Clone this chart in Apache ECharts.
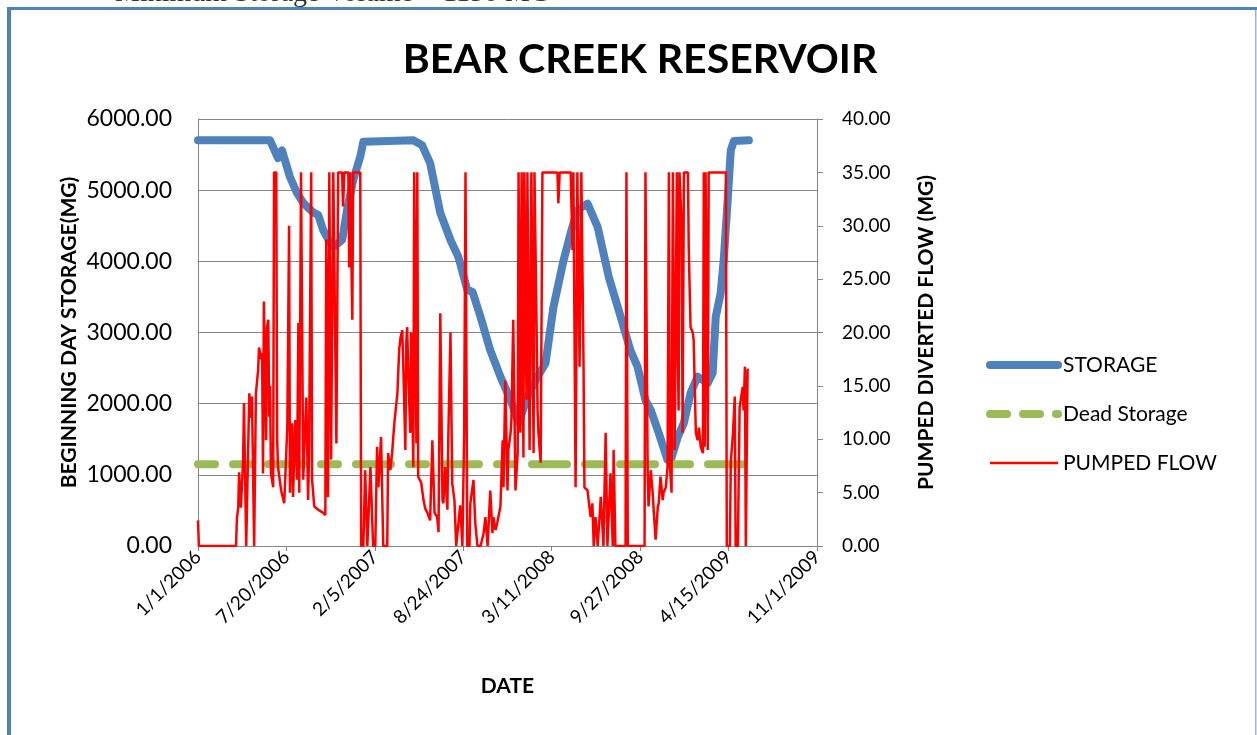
<!DOCTYPE html>
<html>
<head>
<meta charset="utf-8">
<title>Bear Creek Reservoir</title>
<script src="https://cdn.jsdelivr.net/npm/echarts@6/dist/echarts.min.js"></script>
<style>
html, body { margin: 0; padding: 0; background: #fff; }
#chart { width: 1257px; height: 735px; }
</style>
</head>
<body>
<div id="chart"></div>
<script>
// x values are days counted from 1/1/2006
var xTickLabels = ['1/1/2006', '7/20/2006', '2/5/2007', '8/24/2007', '3/11/2008', '9/27/2008', '4/15/2009', '11/1/2009'];

var storageDay = [0, 163, 181, 190, 208, 224, 238, 260, 272, 283, 299, 306, 326, 337, 351, 367, 374,
	487, 507, 525, 548, 571, 589, 609, 621, 639, 661, 684, 707, 725, 745, 768, 786, 804, 827, 843, 858,
	881, 904, 929, 956, 978, 994, 1012, 1024, 1042, 1062, 1069, 1085, 1099, 1114, 1130, 1153, 1164,
	1171, 1182, 1189, 1198, 1205, 1212, 1246];
var storageMG = [5700, 5700, 5450, 5560, 5185, 4960, 4820, 4690, 4650, 4440, 4260, 4200, 4300, 4720, 5140, 5470, 5680,
	5700, 5630, 5380, 4680, 4300, 4060, 3600, 3570, 3220, 2750, 2380, 2050, 1730, 2090, 2380, 2570, 3360, 4020, 4400, 4720,
	4810, 4480, 3780, 3220, 2750, 2520, 2050, 1910, 1590, 1210, 1200, 1530, 1730, 2150, 2380, 2290, 2430,
	3220, 3550, 4020, 4860, 5560, 5690, 5700];

var deadStorageDay = [0, 1246];
var deadStorageMG = [1150, 1150];

var flowDay = [0, 2, 86, 88, 91, 93, 97, 102, 104, 109, 111, 116, 120, 122, 127, 131, 136, 138, 143, 145,
	147, 149, 152, 154, 156, 159, 161, 163, 165, 170, 172, 177, 179, 181, 188, 195, 202, 206, 208, 213,
	215, 220, 224, 227, 229, 233, 236, 238, 240, 245, 249, 251, 256, 258, 263, 272, 283, 288, 290, 294,
	297, 301, 306, 308, 313, 317, 326, 328, 331, 340, 342, 344, 349, 351, 367, 369, 374, 378, 383, 390,
	396, 401, 405, 408, 414, 419, 428, 430, 435, 439, 444, 451, 455, 458, 462, 464, 469, 471, 473, 476,
	480, 482, 485, 487, 489, 491, 494, 496, 498, 505, 510, 514, 519, 525, 530, 535, 541, 544, 548, 553,
	555, 559, 564, 566, 571, 575, 580, 584, 587, 593, 598, 602, 605, 607, 609, 614, 616, 623, 627, 632,
	639, 646, 650, 655, 661, 666, 668, 673, 677, 684, 689, 691, 695, 700, 702, 707, 709, 713, 718, 723,
	725, 729, 732, 736, 738, 743, 745, 750, 754, 759, 761, 766, 768, 770, 775, 779, 813, 815, 818, 843,
	847, 849, 854, 858, 863, 867, 872, 874, 881, 888, 892, 895, 899, 904, 911, 917, 922, 926, 933, 938,
	940, 944, 967, 969, 972, 1010, 1012, 1017, 1019, 1024, 1028, 1031, 1035, 1040, 1042, 1046, 1051, 1053, 1058, 1062,
	1065, 1067, 1071, 1074, 1076, 1078, 1083, 1085, 1087, 1089, 1094, 1096, 1099, 1108, 1110, 1114, 1119, 1121, 1126, 1130,
	1133, 1137, 1142, 1144, 1146, 1148, 1151, 1153, 1155, 1194, 1196, 1203, 1205, 1210, 1214, 1216, 1221, 1225, 1232, 1234,
	1237, 1239, 1243, 1246];
var flowMG = [2.4, 0, 0, 2.6, 3.6, 6.9, 3.6, 8.0, 13.4, 0, 0, 14.3, 12, 14.0, 0, 14.3, 16.5, 18.6, 17.5, 18.1,
	6.8, 22.9, 15, 9.9, 20.5, 21.2, 12.1, 15, 6.8, 5.5, 35, 35, 10, 7.4, 5.2, 4.0, 11.2, 30, 5.0, 11.5,
	4.6, 11.8, 6.2, 20.9, 5.0, 35, 35, 6.2, 8.7, 13.9, 4.3, 8.1, 35, 6.2, 3.7, 3.4, 3.1, 2.9, 28.7, 4.6,
	35, 8.1, 35, 35, 9.6, 35, 35, 31.8, 35, 35, 26.1, 35, 21.2, 35, 35, 0, 0, 7.1, 0, 7.4,
	0, 0, 9.3, 5.5, 10.2, 0, 0, 8.7, 7.1, 8.7, 11.5, 14.3, 18.4, 19.5, 20.2, 17.4, 9.0, 19, 20.5, 15.8,
	10.6, 20, 20, 7.4, 35, 35, 9.6, 35, 6.5, 5.9, 4.3, 3.5, 3.1, 2.4, 9.9, 3.1, 2.7, 1.3, 21.8, 4.3,
	4.0, 7.4, 3.4, 9.9, 20, 5.9, 4.3, 0, 0, 3.8, 0, 10.6, 35, 35, 0, 0, 4.0, 6.2, 2.2, 0,
	0, 1.2, 2.7, 0, 5.2, 1.2, 2.7, 1.5, 2.2, 3.7, 9.9, 5.5, 15.5, 5.2, 9.0, 10.6, 12, 21.2, 5.2, 8.7,
	35, 10.6, 35, 8.3, 35, 13.7, 35, 9.0, 35, 8.7, 35, 20, 12.7, 10.6, 7.8, 35, 35, 32.1, 35, 35,
	27.7, 35, 5.5, 35, 16.8, 35, 16.8, 5.5, 5.2, 2.7, 4.0, 0, 2.7, 0, 4.6, 0, 10.6, 0, 6.8, 0,
	9.0, 0, 0, 35, 0, 0, 35, 7.1, 3.7, 7.1, 5.2, 3.1, 0.6, 3.7, 4.0, 6.5, 4.3, 5.0, 5.5, 7.4,
	35, 7.8, 5.0, 35, 35, 9.0, 35, 18.6, 12.7, 35, 29.9, 10.6, 35, 35, 27.7, 20.5, 20, 19.3, 10.6, 9.9,
	11.1, 9.3, 8.7, 35, 9.3, 35, 20.5, 9.0, 35, 35, 0, 0, 7.8, 10.6, 14.0, 0, 0, 13.0, 14.9, 12.7,
	16.8, 0, 16.5, 16.5];

function pairs(xs, ys) {
	return xs.map(function (x, i) { return [x, ys[i]]; });
}

var chart = echarts.init(document.getElementById('chart'));
var FONT = 'Lato';
var AXIS_GRAY = '#868686';
var noSymbol = { opacity: 0 };

var option = {
	animation: false,
	backgroundColor: '#fff',
	title: {
		text: 'BEAR CREEK RESERVOIR',
		left: 635,
		textAlign: 'center',
		top: 34,
		textStyle: { fontFamily: FONT, fontWeight: 'bold', fontSize: 41, color: '#000' }
	},
	legend: {
		orient: 'vertical',
		left: 981,
		top: 347,
		itemWidth: 68,
		itemHeight: 26,
		itemGap: 23,
		textStyle: { fontFamily: FONT, fontSize: 21, color: '#000', lineHeight: 26 },
		data: [
			{ name: 'STORAGE', itemStyle: noSymbol, lineStyle: { width: 8 } },
			{ name: 'Dead Storage', itemStyle: noSymbol, lineStyle: { width: 8, type: [17, 16], dashOffset: 0 } },
			{ name: 'PUMPED FLOW', itemStyle: noSymbol, lineStyle: { width: 2.5 } }
		]
	},
	grid: { left: 198, right: 440, top: 119, bottom: 189 },
	xAxis: {
		type: 'value',
		min: 0,
		max: 1400,
		interval: 200,
		name: 'DATE',
		nameLocation: 'middle',
		nameGap: 130,
		nameTextStyle: { fontFamily: FONT, fontWeight: 'bold', fontSize: 21, color: '#000' },
		axisLine: { lineStyle: { color: AXIS_GRAY, width: 1 } },
		axisTick: { show: true, length: 5, lineStyle: { color: AXIS_GRAY } },
		splitLine: { show: false },
		axisLabel: {
			rotate: 45,
			margin: 8,
			fontFamily: FONT,
			fontSize: 19,
			color: '#000',
			formatter: function (v) { return xTickLabels[Math.round(v / 200)]; }
		}
	},
	yAxis: [{
		type: 'value',
		min: 0,
		max: 6000,
		interval: 1000,
		name: 'BEGINNING DAY STORAGE(MG)',
		nameLocation: 'middle',
		nameGap: 118,
		nameTextStyle: { fontFamily: FONT, fontWeight: 'bold', fontSize: 21, color: '#000' },
		axisLine: { show: true, lineStyle: { color: AXIS_GRAY, width: 1 } },
		axisTick: { show: false },
		splitLine: { lineStyle: { color: AXIS_GRAY, width: 1 } },
		axisLabel: {
			margin: 26,
			fontFamily: FONT,
			fontSize: 23,
			color: '#000',
			formatter: function (v) { return v.toFixed(2); }
		}
	}, {
		type: 'value',
		min: 0,
		max: 40,
		interval: 5,
		position: 'right',
		name: 'PUMPED DIVERTED FLOW (MG)',
		nameLocation: 'middle',
		nameGap: 99,
		nameTextStyle: { fontFamily: FONT, fontWeight: 'bold', fontSize: 21, color: '#000' },
		axisLine: { show: true, lineStyle: { color: AXIS_GRAY, width: 1 } },
		axisTick: { show: true, length: 6, lineStyle: { color: AXIS_GRAY } },
		splitLine: { show: false },
		axisLabel: {
			margin: 25,
			fontFamily: FONT,
			fontSize: 19,
			color: '#000',
			formatter: function (v) { return v.toFixed(2); }
		}
	}],
	series: [{
		name: 'STORAGE',
		type: 'line',
		yAxisIndex: 0,
		symbol: 'none',
		data: pairs(storageDay, storageMG),
		itemStyle: { color: '#4F81BD' },
		lineStyle: { color: '#4F81BD', width: 8, cap: 'round', join: 'round' },
		z: 2
	}, {
		name: 'Dead Storage',
		type: 'line',
		yAxisIndex: 0,
		symbol: 'none',
		data: pairs(deadStorageDay, deadStorageMG),
		itemStyle: { color: '#9BBB59' },
		lineStyle: { color: '#9BBB59', width: 8, cap: 'round', type: [35, 18, 17, 18], dashOffset: 18 },
		z: 3
	}, {
		name: 'PUMPED FLOW',
		type: 'line',
		yAxisIndex: 1,
		symbol: 'none',
		data: pairs(flowDay, flowMG),
		itemStyle: { color: '#FF0000' },
		lineStyle: { color: '#FF0000', width: 2.5 },
		z: 4
	}],
	graphic: [{
		type: 'text',
		left: 115,
		top: -20,
		style: { text: 'Minimum Storage Volume = 1150 MG', fontFamily: 'Liberation Serif', fontSize: 28, fill: '#333' }
	}, {
		type: 'rect',
		shape: { x: 7, y: 7, width: 1250, height: 3 },
		style: { fill: '#4F81BD' }
	}, {
		type: 'rect',
		shape: { x: 7, y: 7, width: 4, height: 728 },
		style: { fill: '#4F81BD' }
	}, {
		type: 'rect',
		shape: { x: 1255, y: 10, width: 1.5, height: 725 },
		style: { fill: '#95B3D7' }
	}]
};
chart.setOption(option);
</script>
</body>
</html>
